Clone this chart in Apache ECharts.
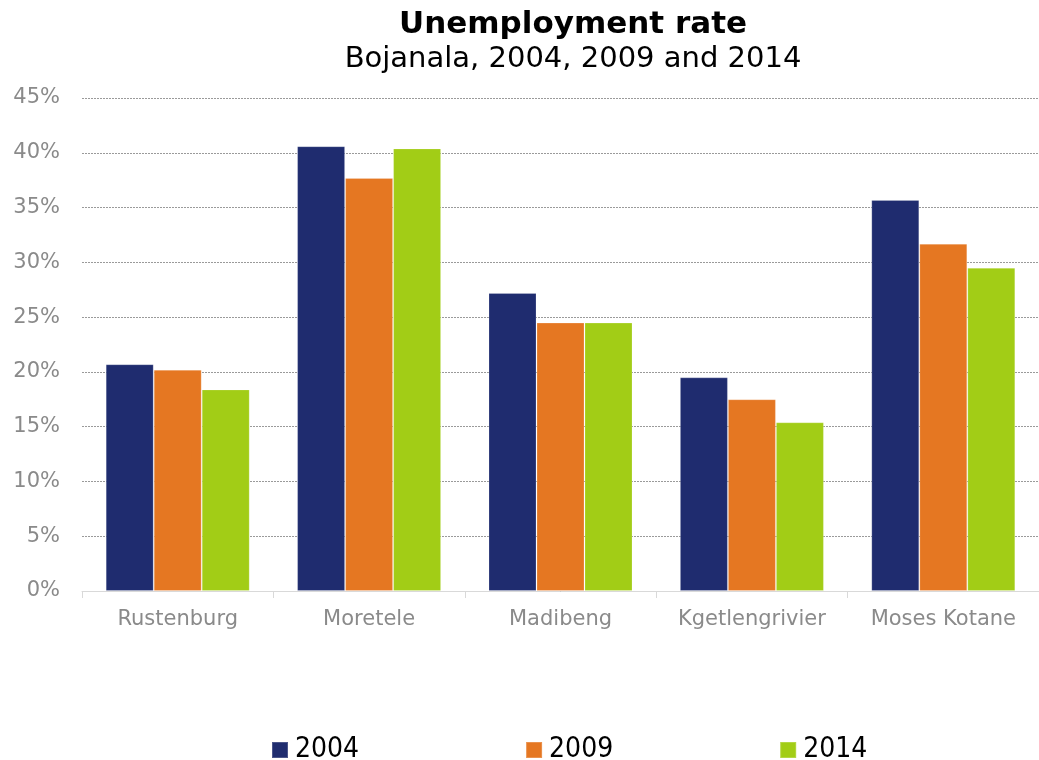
<!DOCTYPE html>
<html>
<head>
<meta charset="utf-8">
<script src="https://cdn.jsdelivr.net/npm/echarts@6/dist/echarts.min.js"></script>
<style>
  html, body { margin: 0; padding: 0; background: #fff; }
  #chart { width: 1039px; height: 760px; }
</style>
</head>
<body>
<div id="chart"></div>
<script>
// Local municipalities of Bojanala district
const municipalities = ['Rustenburg', 'Moretele', 'Madibeng', 'Kgetlengrivier', 'Moses Kotane'];

// Unemployment rate (%) per year
const rate2004 = [20.7, 40.6, 27.2, 19.5, 35.7];
const rate2009 = [20.2, 37.7, 24.5, 17.5, 31.7];
const rate2014 = [18.4, 40.4, 24.5, 15.4, 29.5];

const yearNames = ['2004', '2009', '2014'];
const yearColors = ['#1f2c6f', '#e57722', '#a2cd16'];

const chart = echarts.init(document.getElementById('chart'), null, { renderer: 'canvas' });

function barSeries(name, data, color) {
  return {
    name: name,
    type: 'bar',
    data: data,
    barWidth: 48,
    barGap: '0%',
    itemStyle: { color: color, borderColor: 'rgba(255,255,255,0.2)', borderWidth: 1 },
    emphasis: { disabled: true }
  };
}

chart.setOption({
  animation: false,
  title: [
    {
      text: 'Unemployment rate',
      left: 568,
      top: 4,
      textAlign: 'center',
      textStyle: { fontFamily: 'DejaVu Sans', fontWeight: 'bold', fontSize: 31, color: '#000' }
    },
    {
      text: 'Bojanala, 2004, 2009 and 2014',
      left: 568,
      top: 40,
      textAlign: 'center',
      textStyle: { fontFamily: 'DejaVu Sans', fontWeight: 'normal', fontSize: 29, color: '#000' }
    }
  ],
  legend: {
    data: yearNames,
    left: 266,
    top: 731,
    itemWidth: 16,
    itemHeight: 16,
    itemGap: 166,
    icon: 'rect',
    textStyle: { fontFamily: 'DejaVu Sans Condensed', fontSize: 28, color: '#000', padding: [0, 0, 0, 2] }
  },
  grid: { left: 82, right: 0, top: 98, bottom: 169, containLabel: false },
  xAxis: {
    type: 'category',
    data: municipalities,
    axisLine: { show: true, lineStyle: { color: '#d9d9d9', width: 1 } },
    axisTick: { show: true, interval: 0, alignWithLabel: false, length: 7, lineStyle: { color: '#d9d9d9' } },
    axisLabel: { interval: 0, fontFamily: 'DejaVu Sans', fontSize: 21, color: '#8a8a8a', margin: 18 },
    splitLine: { show: false }
  },
  yAxis: {
    type: 'value',
    min: 0,
    max: 45,
    interval: 5,
    axisLine: { show: false },
    axisTick: { show: false },
    axisLabel: {
      fontFamily: 'DejaVu Sans', fontSize: 21, color: '#8a8a8a', margin: 22,
      formatter: function (v) { return v + '%'; }
    },
    splitLine: { show: true, lineStyle: { color: '#9a9a9a', width: 1, type: [2, 1] } }
  },
  series: [
    barSeries(yearNames[0], rate2004, yearColors[0]),
    barSeries(yearNames[1], rate2009, yearColors[1]),
    barSeries(yearNames[2], rate2014, yearColors[2])
  ]
});
</script>
</body>
</html>
